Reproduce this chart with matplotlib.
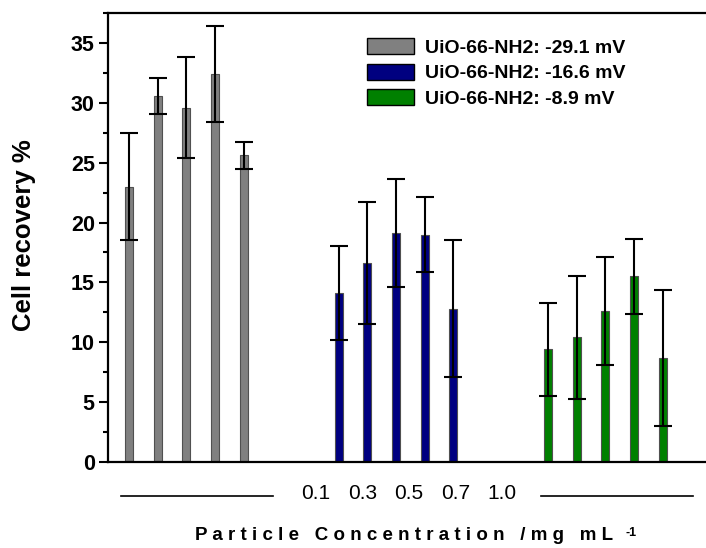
import numpy as np
import matplotlib
matplotlib.use("Agg")
import matplotlib.pyplot as plt
from matplotlib.patches import Patch
from matplotlib.ticker import MultipleLocator

plt.rcParams['font.family'] = ['Liberation Sans', 'DejaVu Sans']

# data
series = ["UiO-66-NH2: -29.1 mV", "UiO-66-NH2: -16.6 mV", "UiO-66-NH2: -8.9 mV"]
colors = ["#808080", "#000080", "#008000"]
conc_labels = ["0.1", "0.3", "0.5", "0.7", "1.0"]
recovery = [
    [23.0, 30.6, 29.6, 32.4, 25.6],
    [14.1, 16.6, 19.1, 19.0, 12.8],
    [9.4, 10.4, 12.6, 15.5, 8.7],
]
errors = [
    [4.5, 1.5, 4.2, 4.0, 1.1],
    [3.9, 5.1, 4.5, 3.1, 5.7],
    [3.9, 5.1, 4.5, 3.1, 5.7],
]
group_start = [1.0, 8.3, 15.6]

W, H = 706, 548
fig = plt.figure(figsize=(W / 100, H / 100), dpi=100)
ax = fig.add_axes([108 / W, (H - 462) / H, (720 - 108) / W, 449 / H])

for start, vals, errs, c in zip(group_start, recovery, errors, colors):
    x = start + np.arange(len(vals))
    ax.bar(x, vals, width=0.28, color=c, edgecolor="#505050", linewidth=0.8, zorder=2)
    ax.errorbar(x, vals, yerr=errs, fmt="none", ecolor="black", elinewidth=1.5,
                capsize=6.5, capthick=1.5, zorder=3)

ax.set_xlim(0.268, 21.59)
ax.set_ylim(0, 37.5)
ax.yaxis.set_major_locator(MultipleLocator(5))
ax.yaxis.set_minor_locator(MultipleLocator(2.5))
ax.tick_params(axis="y", which="major", length=6.5, width=1.5, labelsize=15.5, pad=3)
ax.tick_params(axis="y", which="minor", length=3.5, width=1.5)
ax.tick_params(axis="x", which="both", bottom=False, labelbottom=False)
for lab in ax.get_yticklabels():
    lab.set_fontweight("bold")
ax.spines["right"].set_visible(False)
for s in ["left", "top", "bottom"]:
    ax.spines[s].set_linewidth(1.6)

# concentration labels and group lines beneath the axis
tr = ax.get_xaxis_transform()
for xp, lab in zip(np.linspace(7.5, 14.0, len(conc_labels)), conc_labels):
    ax.text(xp, -0.071, lab, transform=tr, ha="center", va="center", fontsize=15)
ax.plot([0.72, 6.02], [-0.076, -0.076], transform=tr, color="black", lw=1.2, clip_on=False)
ax.plot([15.36, 20.65], [-0.076, -0.076], transform=tr, color="black", lw=1.2, clip_on=False)

fig.text(24 / W, 1 - 235 / H, "Cell recovery %", rotation=90, ha="center", va="center",
         fontsize=18.5, fontweight="bold")

xl = "   ".join(" ".join(w) for w in ["Particle", "Concentration", "/mg", "mL"])
t = fig.text(195 / W, 1 - 535 / H, xl, ha="left", va="center", fontsize=13.5, fontweight="bold")
fig.canvas.draw()
bb = t.get_window_extent(fig.canvas.get_renderer())
fig.text((bb.x1 + 12) / W, 1 - 527 / H, "-1", ha="left", va="top", fontsize=9, fontweight="bold")

handles = [Patch(facecolor=c, edgecolor="black", linewidth=1) for c in colors]
leg = fig.legend(handles, series, loc="upper left", bbox_to_anchor=(367 / W, 1 - 38 / H),
                 frameon=False, borderpad=0, borderaxespad=0, handlelength=2.4,
                 handleheight=0.9, handletextpad=0.6, labelspacing=0.35,
                 prop={"size": 14, "weight": "bold"})

fig.savefig("out.png", dpi=100)
